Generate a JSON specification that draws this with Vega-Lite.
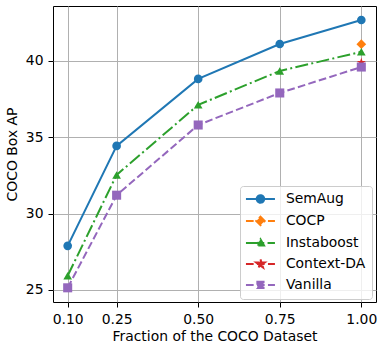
{
  "$schema": "https://vega.github.io/schema/vega-lite/v6.json",
  "width": 323,
  "height": 296,
  "autosize": {"type": "none"},
  "padding": {"left": 53, "top": 6, "right": 8, "bottom": 42},
  "background": "white",
  "data": {
    "values": [
      {"frac": 0.10, "ap": 27.88, "method": "SemAug"},
      {"frac": 0.25, "ap": 34.43, "method": "SemAug"},
      {"frac": 0.50, "ap": 38.82, "method": "SemAug"},
      {"frac": 0.75, "ap": 41.11, "method": "SemAug"},
      {"frac": 1.00, "ap": 42.68, "method": "SemAug"},
      {"frac": 1.00, "ap": 41.1, "method": "COCP"},
      {"frac": 0.10, "ap": 25.92, "method": "Instaboost"},
      {"frac": 0.25, "ap": 32.53, "method": "Instaboost"},
      {"frac": 0.50, "ap": 37.12, "method": "Instaboost"},
      {"frac": 0.75, "ap": 39.34, "method": "Instaboost"},
      {"frac": 1.00, "ap": 40.6, "method": "Instaboost"},
      {"frac": 1.00, "ap": 39.9, "method": "Context-DA"},
      {"frac": 0.10, "ap": 25.13, "method": "Vanilla"},
      {"frac": 0.25, "ap": 31.2, "method": "Vanilla"},
      {"frac": 0.50, "ap": 35.8, "method": "Vanilla"},
      {"frac": 0.75, "ap": 37.9, "method": "Vanilla"},
      {"frac": 1.00, "ap": 39.6, "method": "Vanilla"}
    ]
  },
  "encoding": {
    "x": {
      "field": "frac", "type": "quantitative",
      "scale": {"domain": [0.055, 1.045], "nice": false, "zero": false},
      "axis": {"values": [0.1, 0.25, 0.5, 0.75, 1.0], "format": ".2f", "title": "Fraction of the COCO Dataset", "labelPadding": 5, "titlePadding": 4}
    },
    "y": {
      "field": "ap", "type": "quantitative",
      "scale": {"domain": [24.2, 43.6], "nice": false, "zero": false},
      "axis": {"values": [25, 30, 35, 40], "format": "d", "title": "COCO Box AP", "labelPadding": 5, "titlePadding": 5.5}
    },
    "color": {
      "field": "method", "type": "nominal",
      "scale": {
        "domain": ["SemAug", "COCP", "Instaboost", "Context-DA", "Vanilla"],
        "range": ["#1f77b4", "#ff7f0e", "#2ca02c", "#d62728", "#9467bd"]
      },
      "legend": {
        "title": null,
        "orient": "none",
        "legendX": 187,
        "legendY": 180,
        "padding": 6,
        "symbolSize": 100,
        "symbolOffset": 7.5,
        "labelOffset": 18.5,
        "rowPadding": 5,
        "labelFont": "DejaVu Sans",
        "labelFontSize": 13.9,
        "labelColor": "black",
        "fillColor": "rgba(255,255,255,0.8)",
        "strokeColor": "#cccccc",
        "cornerRadius": 3,
        "encode": {
          "symbols": {
            "update": {
              "shape": {"signal": "datum.value === 'SemAug' ? 'M-2.9,0H2.9M0.75,0A0.75,0.75,0,1,1,-0.75,0A0.75,0.75,0,1,1,0.75,0Z' : datum.value === 'COCP' ? 'M-2.9,0H2.9M0,-0.85L0.85,0L0,0.85L-0.85,0Z' : datum.value === 'Instaboost' ? 'M-2.9,0H2.9M0,-0.75L0.72,0.5L-0.72,0.5Z' : datum.value === 'Context-DA' ? 'M-2.9,0H2.9M0,-0.9L0.21,-0.29L0.86,-0.28L0.34,0.11L0.53,0.73L0,0.36L-0.53,0.73L-0.34,0.11L-0.86,-0.28L-0.21,-0.29Z' : 'M-2.9,0H2.9M-0.62,-0.62H0.62V0.62H-0.62Z'"},
              "fill": {"signal": "scale('color', datum.value)"},
              "stroke": {"signal": "scale('color', datum.value)"},
              "strokeWidth": {"value": 2},
              "strokeDash": {"signal": "datum.value === 'SemAug' ? [1,0] : datum.value === 'Instaboost' ? [13,3.3,2,3.3] : [7.7,3.3]"},
              "size": {"value": 100},
              "opacity": {"value": 1},
              "fillOpacity": {"value": 1}
            }
          }
        }
      }
    }
  },
  "layer": [
    {
      "transform": [{"filter": "datum.method === 'SemAug'"}],
      "mark": {"type": "line", "strokeWidth": 2}
    },
    {
      "transform": [{"filter": "datum.method === 'SemAug'"}],
      "mark": {"type": "point", "filled": true, "opacity": 1, "size": 75, "shape": "circle"}
    },
    {
      "transform": [{"filter": "datum.method === 'COCP'"}],
      "mark": {"type": "point", "filled": true, "opacity": 1, "size": 95, "shape": "diamond"}
    },
    {
      "transform": [{"filter": "datum.method === 'Instaboost'"}],
      "mark": {"type": "line", "strokeWidth": 2, "strokeDash": [13, 3.3, 2, 3.3]}
    },
    {
      "transform": [{"filter": "datum.method === 'Instaboost'"}],
      "mark": {"type": "point", "filled": true, "opacity": 1, "size": 75, "shape": "triangle-up"}
    },
    {
      "transform": [{"filter": "datum.method === 'Context-DA'"}],
      "mark": {"type": "point", "filled": true, "opacity": 1, "size": 90, "shape": "M0,-1L0.235,-0.324L0.951,-0.309L0.38,0.124L0.588,0.809L0,0.4L-0.588,0.809L-0.38,0.124L-0.951,-0.309L-0.235,-0.324Z"}
    },
    {
      "transform": [{"filter": "datum.method === 'Vanilla'"}],
      "mark": {"type": "line", "strokeWidth": 2, "strokeDash": [7.7, 3.3]}
    },
    {
      "transform": [{"filter": "datum.method === 'Vanilla'"}],
      "mark": {"type": "point", "filled": true, "opacity": 1, "size": 82, "shape": "square"}
    }
  ],
  "config": {
    "view": {"stroke": "black", "strokeWidth": 1},
    "font": "DejaVu Sans",
    "axis": {
      "domain": false,
      "labelFont": "DejaVu Sans",
      "labelFontSize": 13.9,
      "labelColor": "black",
      "titleFont": "DejaVu Sans",
      "titleFontSize": 13.9,
      "titleFontWeight": "normal",
      "titleColor": "black",
      "tickColor": "black",
      "tickSize": 5,
      "tickWidth": 1,
      "grid": true,
      "gridColor": "#b0b0b0",
      "gridWidth": 1
    }
  }
}
